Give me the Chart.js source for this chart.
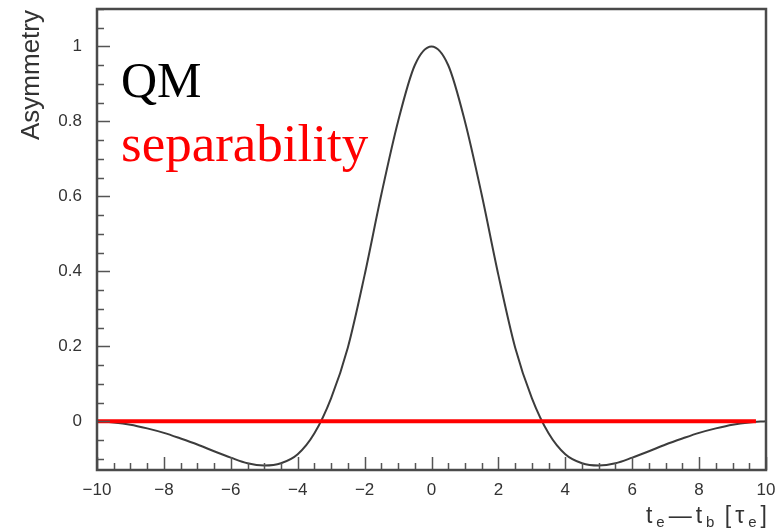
<!DOCTYPE html>
<html>
<head>
<meta charset="utf-8">
<script src="https://cdn.jsdelivr.net/npm/chart.js@4/dist/chart.umd.min.js"></script>
<style>
  html, body { margin: 0; padding: 0; background: #fff; }
  #wrap { width: 778px; height: 530px; }
</style>
</head>
<body>
<div id="wrap"><canvas id="c" width="778" height="530"></canvas></div>
<script>
// values
const timeDiff = [-10, -9.5, -9, -8.5, -8, -7.5, -7, -6.5, -6, -5.5, -5, -4.5, -4, -3.5, -3, -2.5, -2, -1.5, -1, -0.5,
                  0, 0.5, 1, 1.5, 2, 2.5, 3, 3.5, 4, 4.5, 5, 5.5, 6, 6.5, 7, 7.5, 8, 8.5, 9, 9.5, 10];
const asymmetryQM = [0, -0.003, -0.009, -0.019, -0.031, -0.046, -0.062, -0.080, -0.097, -0.112, -0.118, -0.112, -0.088, -0.032, 0.062, 0.197, 0.39, 0.605, 0.80, 0.95,
                     1.0, 0.95, 0.80, 0.605, 0.39, 0.197, 0.062, -0.032, -0.088, -0.112, -0.118, -0.112, -0.097, -0.080, -0.062, -0.046, -0.031, -0.019, -0.009, -0.003, 0];
const separabilityX = [-10, 9.7];
const separabilityY = [0, 0];

const xTickLabels = [-10, -8, -6, -4, -2, 0, 2, 4, 6, 8, 10];
const yTickLabels = [0, 0.2, 0.4, 0.6, 0.8, 1];

const toPoints = (xs, ys) => xs.map((x, i) => ({ x: x, y: ys[i] }));
const fmt = v => (v < 0 ? '\u2212' + Math.abs(v) : String(v));
const SANS = '"Liberation Sans", Arial, sans-serif';

// ROOT-like frame with ticks pointing inward, plus the text labels
const framePlugin = {
  id: 'frame',
  afterDraw(chart) {
    const ctx = chart.ctx;
    const a = chart.chartArea;
    const xs = chart.scales.x, ys = chart.scales.y;
    ctx.save();
    ctx.strokeStyle = '#555';
    ctx.lineWidth = 1.5;
    ctx.beginPath();
    for (let i = -20; i <= 20; i++) {
      const px = Math.round(xs.getPixelForValue(i * 0.5)) + 0.5;
      const len = i % 4 === 0 ? 13 : 7;
      ctx.moveTo(px, a.bottom);
      ctx.lineTo(px, a.bottom - len);
    }
    for (let j = -2; j <= 22; j++) {
      const py = Math.round(ys.getPixelForValue(j * 0.05)) + 0.5;
      const len = j % 4 === 0 ? 13 : 7;
      ctx.moveTo(a.left, py);
      ctx.lineTo(a.left + len, py);
    }
    ctx.stroke();

    ctx.strokeStyle = '#4a4a4a';
    ctx.lineWidth = 2.5;
    ctx.strokeRect(a.left, a.top, a.right - a.left, a.bottom - a.top);

    // y axis title
    ctx.fillStyle = '#333';
    ctx.save();
    ctx.translate(32, a.top + 1);
    ctx.rotate(-Math.PI / 2);
    ctx.font = '26px ' + SANS;
    ctx.textAlign = 'right';
    ctx.textBaseline = 'middle';
    ctx.fillText('Asymmetry', 0, 0);
    ctx.restore();

    // x axis title with subscripts
    const parts = [
      ['t', 23, 0], ['e', 15, 4], ['\u2014', 23, 0], ['t', 23, 0], ['b', 15, 4],
      [' [', 23, 0], ['\u03c4', 23, 0], ['e', 15, 4], [']', 23, 0]
    ];
    const gap = 4;
    ctx.textBaseline = 'alphabetic';
    ctx.textAlign = 'left';
    let total = 0;
    parts.forEach(p => { ctx.font = p[1] + 'px ' + SANS; total += ctx.measureText(p[0]).width + gap; });
    let cx = a.right + gap + 1 - total;
    parts.forEach(p => {
      ctx.font = p[1] + 'px ' + SANS;
      ctx.fillText(p[0], cx, 523 + p[2]);
      cx += ctx.measureText(p[0]).width + gap;
    });

    // annotation text
    ctx.fillStyle = '#000';
    ctx.font = '50px "Liberation Serif", "Times New Roman", serif';
    ctx.fillText('QM', 121, 97);
    ctx.fillStyle = '#ff0000';
    ctx.font = '53px "Liberation Serif", "Times New Roman", serif';
    ctx.fillText('separability', 121, 161);
    ctx.restore();
  }
};

new Chart(document.getElementById('c'), {
  type: 'line',
  data: {
    datasets: [
      {
        label: 'separability',
        data: toPoints(separabilityX, separabilityY),
        borderColor: '#ff0000',
        borderWidth: 4,
        pointRadius: 0,
        order: 0
      },
      {
        label: 'QM',
        data: toPoints(timeDiff, asymmetryQM),
        borderColor: '#3c3c3c',
        borderWidth: 2,
        pointRadius: 0,
        cubicInterpolationMode: 'monotone',
        order: 1
      }
    ]
  },
  options: {
    responsive: false,
    animation: false,
    devicePixelRatio: 1,
    layout: { padding: { top: 9, right: 12, left: 0, bottom: 0 } },
    plugins: { legend: { display: false }, tooltip: { enabled: false } },
    scales: {
      x: {
        type: 'linear',
        min: -10,
        max: 10,
        afterBuildTicks: s => { s.ticks = xTickLabels.map(v => ({ value: v })); },
        afterFit: s => { s.height = 60; s.paddingLeft = 0; s.paddingRight = 0; },
        grid: { display: false },
        border: { display: false },
        ticks: {
          autoSkip: false,
          maxRotation: 0,
          padding: 2,
          color: '#333',
          font: { family: SANS, size: 17 },
          callback: v => fmt(v)
        }
      },
      y: {
        type: 'linear',
        min: -0.13,
        max: 1.1,
        afterBuildTicks: s => { s.ticks = yTickLabels.map(v => ({ value: v })); },
        afterFit: s => { s.width = 97; s.paddingTop = 0; s.paddingBottom = 0; },
        grid: { display: false },
        border: { display: false },
        ticks: {
          padding: 7,
          color: '#333',
          font: { family: SANS, size: 17 },
          callback: v => fmt(Math.round(v * 10) / 10)
        }
      }
    }
  },
  plugins: [framePlugin]
});
</script>
</body>
</html>
